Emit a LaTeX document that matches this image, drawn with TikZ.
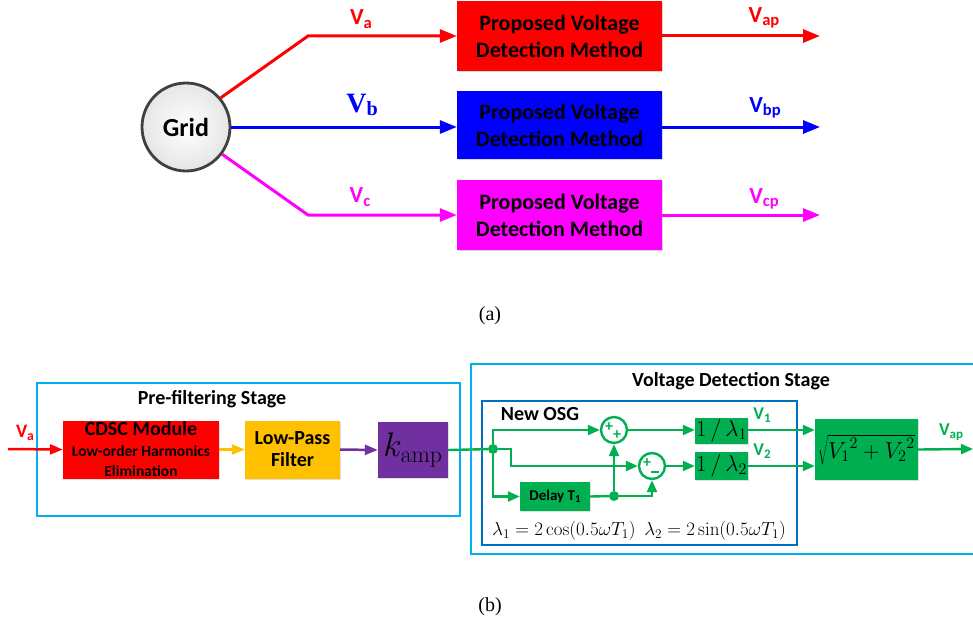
\RequirePackage{fix-cm}
\documentclass[tikz,border=0pt]{standalone}
\usepackage[no-math]{fontspec}
\setmainfont{Carlito}
\newfontfamily\tnr{Liberation Serif}
\usetikzlibrary{arrows.meta,shadows,calc}
\definecolor{cred}{RGB}{255,0,0}
\definecolor{cblue}{RGB}{0,0,255}
\definecolor{cmag}{RGB}{255,0,255}
\definecolor{cgreen}{RGB}{0,176,80}
\definecolor{corange}{RGB}{255,192,0}
\definecolor{cpurple}{RGB}{112,48,160}
\definecolor{clight}{RGB}{0,176,240}
\definecolor{cdark}{RGB}{0,112,192}
\newcommand\fs[1]{\fontsize{#1}{#1}\selectfont}
\newcommand\sbx[1]{\raisebox{-0.3ex}{\scalebox{0.72}{#1}}}
\begin{document}
\begin{tikzpicture}[x=1pt,y=-1pt,
  arr/.style={-{Triangle[length=17pt,width=13pt]}, line width=3pt},
  sarr/.style={-{Triangle[length=13pt,width=10pt]}, line width=2.5pt},
  garr/.style={-{Triangle[length=12pt,width=10pt]}, line width=2.4pt, draw=cgreen},
  gline/.style={line width=2.4pt, draw=cgreen},
  pbox/.style={minimum width=205pt, minimum height=70pt, inner sep=0pt, align=center,
     font=\bfseries\fontsize{22}{27}\selectfont, drop shadow={opacity=0.3, shadow xshift=1pt, shadow yshift=-1pt}},
  blk/.style={inner sep=0pt, align=center, drop shadow={opacity=0.25, shadow xshift=1pt, shadow yshift=-1pt}},
  gblk/.style={blk, fill=cgreen},
  vlab/.style={font=\bfseries\fs{23}},
  glab/.style={font=\bfseries\fs{18}, text=cgreen},
  dot/.style={circle, fill=cgreen, minimum size=10pt, inner sep=0pt},
  sumc/.style={circle, draw=cgreen, line width=2.4pt, minimum size=26pt, inner sep=0pt, fill=white},
  sgn/.style={font=\bfseries\fs{16}, text=cgreen, inner sep=0pt},
  stage/.style={draw=clight, line width=2.4pt},
  ttl/.style={font=\bfseries\fs{20}},
  captxt/.style={font=\tnr\fs{20}}
]
\useasboundingbox (0,0) rectangle (973,626);

% ---------------- (a) ----------------
\node[circle, draw=black!75, line width=2.8pt, minimum size=88pt, inner sep=0pt,
      inner color=white, outer color=black!10, font=\bfseries\fs{26}] (grid) at (186,127) {Grid};

\node[pbox, fill=cred] (pa) at (559.5,36) {Proposed Voltage\\Detection Method};
\node[pbox, fill=cblue, minimum height=68pt] (pb) at (559.5,125) {Proposed Voltage\\Detection Method};
\node[pbox, fill=cmag] (pc) at (559.5,215) {Proposed Voltage\\Detection Method};

\coordinate (ka) at (308,36);
\coordinate (kc) at (308,215);
\coordinate (oa) at (820,36);
\coordinate (ob) at (820,127);
\coordinate (oc) at (820,215);

\draw[arr, cred] (grid.40) -- (ka) -- (pa.west);
\draw[arr, cblue] (grid.east) -- (grid.east -| pb.west);
\draw[arr, cmag] (grid.-37) -- (kc) -- (pc.west);
\draw[arr, cred] (pa.east) -- (oa);
\draw[arr, cblue] (pb.east |- ob) -- (ob);
\draw[arr, cmag] (pc.east) -- (oc);

\node[vlab, text=cred] (la) at (361,19) {V\sbx{a}};
\node[text=cblue, font=\tnr\bfseries\fs{28}] (lb) at (362,105) {V\sbx{b}};
\node[vlab, text=cmag] (lc) at (360,197) {V\sbx{c}};
\node[vlab, text=cred] (lap) at (764,18) {V\sbx{ap}};
\node[vlab, text=cblue] (lbp) at (765,108) {V\sbx{bp}};
\node[vlab, text=cmag] (lcp) at (764,199) {V\sbx{cp}};

\node[captxt] (capa) at (490,316) {(a)};

% ---------------- (b) ----------------
\draw[stage] (37,383) rectangle (460,516);
\node[ttl] (pft) at (212,399) {Pre-filtering Stage};

\draw[stage] (471,364) rectangle (990,554);
\node[ttl] (vdt) at (731,381) {Voltage Detection Stage};

\draw[draw=cdark, line width=2.4pt] (482,401) rectangle (797,545);
\node[ttl] (osg) at (540,414) {New OSG};

\node[blk, fill=cred, minimum width=156pt, minimum height=58pt] (cdsc) at (141,449.5) {};
\node[font=\bfseries\fs{20}, anchor=base] (cd1) at (141,435.5) {CDSC Module};
\node[font=\bfseries\fs{15.5}, anchor=base] (cd2) at (141,456) {Low-order Harmonics};
\node[font=\bfseries\fs{15.5}, anchor=base] (cd3) at (141,476) {Elimination};
\node[blk, fill=corange, minimum width=95pt, minimum height=58pt, font=\bfseries\fontsize{20}{22}\selectfont] (lpf) at (292.5,449.5) {Low-Pass\\Filter};
\node[blk, fill=cpurple, minimum width=70pt, minimum height=56pt, font=\fs{34}] (kamp) at (413,450) {$k_{\mathrm{amp}}$};

\coordinate (vin) at (8,449);
\draw[sarr, cred] (vin) -- (cdsc.west);
\node[font=\bfseries\fs{19}, text=cred] (lva) at (25,433) {V\sbx{a}};
\draw[sarr, corange] (cdsc.east) -- (lpf.west);
\draw[sarr, cpurple] (lpf.east) -- (kamp.west);

\node[dot] (j1) at (493,449) {};
\coordinate (k1) at (511,449);
\node[sumc] (s1) at (614,430) {};
\node[sumc] (s2) at (652,466) {};
\node[gblk, minimum width=70pt, minimum height=29pt, font=\bfseries\fs{15}] (dl) at (555,496.5) {Delay T\sbx{1}};
\node[dot] (j2) at (614,496) {};
\node[gblk, minimum width=53pt, minimum height=26pt] (l1) at (721.5,430.5) {\fs{23}$1\,/\,\lambda_1$};
\node[gblk, minimum width=53pt, minimum height=28pt] (l2) at (721.5,465.5) {\fs{23}$1\,/\,\lambda_2$};
\node[gblk, minimum width=103pt, minimum height=61pt] (sq) at (866.5,449.5) {\fs{23}$\sqrt{{V_1}^{2}+{V_2}^{2}}$};

% sum signs
\node[sgn] (p1) at ($(s1)+(-5,-3)$) {+};
\node[sgn] (p2) at ($(s1)+(3,5)$) {+};
\node[sgn] (p3) at ($(s2)+(-5,-3)$) {+};
\node[text=cgreen, inner sep=0pt] (m1) at ($(s2)+(3,6)$) {\rule{8pt}{2pt}};

\draw[gline] (kamp.east) -- (j1);
\draw[garr] (j1) |- (s1.west);
\draw[garr] (j1) -- (k1) |- (s2.west);
\draw[garr] (j1) |- (dl.west);
\draw[gline] (dl.east) -- (j2);
\draw[garr] (j2) -- (s1.south);
\draw[garr] (j2) -| (s2.south);
\draw[garr] (s1.east) -- (l1.west |- s1);
\draw[garr] (s2.east) -- (l2.west |- s2);
\draw[garr] (l1.east |- s1) -- (sq.west |- s1);
\draw[garr] (l2.east |- s2) -- (sq.west |- s2);
\coordinate (vout) at (973,449);
\draw[garr] (sq.east) -- (vout);

\node[glab] (v1) at (762,415) {V\sbx{1}};
\node[glab] (v2) at (762,451) {V\sbx{2}};
\node[glab] (vap) at (951,432) {V\sbx{ap}};

\node[font=\fs{19}] (form) at (639,531)
  {$\lambda_1=2\cos(0.5\omega T_1)\ \ \lambda_2=2\sin(0.5\omega T_1)$};

\node[captxt] (capb) at (490,607) {(b)};
\end{tikzpicture}
\end{document}
